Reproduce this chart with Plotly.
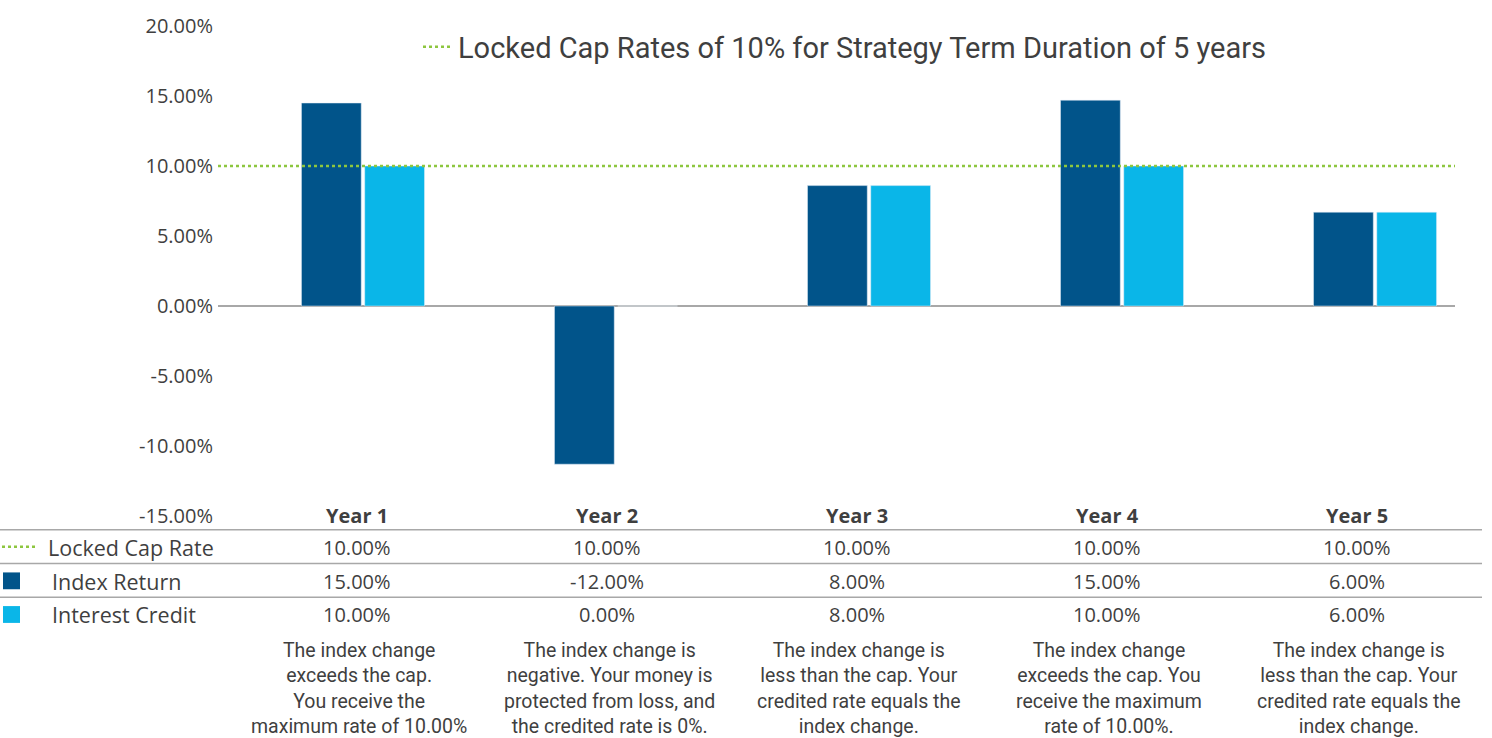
import plotly.graph_objects as go

# ---------------- data ----------------
years = ["Year 1", "Year 2", "Year 3", "Year 4", "Year 5"]
index_return = [14.5, -11.3, 8.6, 14.7, 6.7]      # bar heights
interest_credit = [10.0, 0.0, 8.6, 10.0, 6.7]
cap_rate = 10.0
tbl_cap = ["10.00%", "10.00%", "10.00%", "10.00%", "10.00%"]
tbl_index = ["15.00%", "-12.00%", "8.00%", "15.00%", "6.00%"]
tbl_credit = ["10.00%", "0.00%", "8.00%", "10.00%", "6.00%"]
descriptions = [
    "The index change<br>exceeds the cap.<br>You receive the<br>maximum rate of 10.00%",
    "The index change is<br>negative. Your money is<br>protected from loss, and<br>the credited rate is 0%.",
    "The index change is<br>less than the cap. Your<br>credited rate equals the<br>index change.",
    "The index change<br>exceeds the cap. You<br>receive the maximum<br>rate of 10.00%.",
    "The index change is<br>less than the cap. Your<br>credited rate equals the<br>index change.",
]
y_ticks = [-15, -10, -5, 0, 5, 10, 15, 20]
y_ticktext = ["%.2f%%" % v for v in y_ticks]
legend_label = "Locked Cap Rates of 10% for Strategy Term Duration of 5 years"
row_labels = ["Locked Cap Rate", "Index Return", "Interest Credit"]

# ---------------- style ----------------
DARK = "#01548A"
LIGHT = "#0AB6E8"
GREEN = "#8DC63F"
TXT = "#3F3F3F"
GRID = "#A8A8A8"
FONT = "Open Sans"
FONT2 = "Roboto"

W, H = 1492, 738
L, T = 218, 21
R = W - 1455
B = H - 516
PW, PH = W - L - R, H - T - B
x_range = [-0.573, 4.316]
xs = list(range(len(years)))

def px(xp):
    return (xp - L) / PW

def py(yp):
    return 1 - (yp - T) / PH

fig = go.Figure()
fig.add_trace(go.Bar(x=xs, y=index_return, marker_color=DARK, name="Index Return",
                     showlegend=False))
fig.add_trace(go.Bar(x=xs, y=interest_credit, marker_color=LIGHT, name="Interest Credit",
                     showlegend=False))
fig.add_trace(go.Scatter(x=x_range, y=[cap_rate, cap_rate], mode="lines",
                         line=dict(color=GREEN, width=2.5, dash="dot"),
                         name=legend_label, showlegend=True))

ann = []
col_px = [357 + 250 * i for i in range(len(years))]
for i, yr in enumerate(years):
    ann.append(dict(x=px(col_px[i]), y=py(515), xref="paper", yref="paper", text="<b>" + yr + "</b>",
                    xanchor="center", yanchor="middle",
                    showarrow=False, font=dict(family=FONT, size=20, color=TXT)))
    for row_y, vals in zip([548, 582, 616], [tbl_cap, tbl_index, tbl_credit]):
        ann.append(dict(x=px(col_px[i]), y=py(row_y), xref="paper", yref="paper", text=vals[i],
                        xanchor="center", yanchor="middle",
                        showarrow=False, font=dict(family=FONT, size=20, color=TXT)))
    ann.append(dict(x=px(col_px[i] + 2), y=py(638), xref="paper", yref="paper", text=descriptions[i],
                    showarrow=False, xanchor="center", yanchor="top", align="center",
                    font=dict(family=FONT2, size=19.5, color=TXT)))

for lbl, xl, yl in zip(row_labels, [46, 50, 50], [548, 582, 616]):
    ann.append(dict(x=px(xl), y=py(yl), xref="paper", yref="paper", text=lbl,
                    xanchor="left", yanchor="middle",
                    showarrow=False, font=dict(family=FONT, size=21.5, color=TXT)))

shapes = []
for yl in [530, 564, 598]:
    shapes.append(dict(type="line", xref="paper", yref="paper", x0=px(0), x1=px(1482),
                       y0=py(yl), y1=py(yl), line=dict(color=GRID, width=1.5)))
shapes.append(dict(type="line", xref="paper", yref="paper", x0=px(2), x1=px(38),
                   y0=py(547), y1=py(547), line=dict(color=GREEN, width=2.5, dash="dot")))
shapes.append(dict(type="rect", xref="paper", yref="paper", x0=px(3), x1=px(20),
                   y0=py(590), y1=py(573), fillcolor=DARK, line=dict(width=0)))
shapes.append(dict(type="rect", xref="paper", yref="paper", x0=px(3), x1=px(20),
                   y0=py(624), y1=py(607), fillcolor=LIGHT, line=dict(width=0)))

fig.update_layout(
    width=W, height=H,
    margin=dict(l=L, r=R, t=T, b=B),
    paper_bgcolor="white", plot_bgcolor="white",
    barmode="group", bargap=0.5, bargroupgap=0.055,
    font=dict(family=FONT, color=TXT),
    xaxis=dict(range=x_range, showticklabels=False, showgrid=False, zeroline=False,
               showline=False, ticks=""),
    yaxis=dict(range=[-15, 20], tickvals=y_ticks, ticktext=y_ticktext, ticklabelstandoff=4,
               showgrid=False, zeroline=True, zerolinecolor=GRID, zerolinewidth=1.5,
               showline=False, ticks="", tickfont=dict(family=FONT, size=20, color=TXT)),
    legend=dict(x=px(418), y=py(42), xanchor="left", yanchor="middle",
                bgcolor="rgba(0,0,0,0)", font=dict(family=FONT2, size=29, color=TXT)),
    annotations=ann,
    shapes=shapes,
)

fig.write_html("out.html", config={"displayModeBar": False},
               post_script="document.body.style.margin='0';document.body.style.overflow='hidden';")
